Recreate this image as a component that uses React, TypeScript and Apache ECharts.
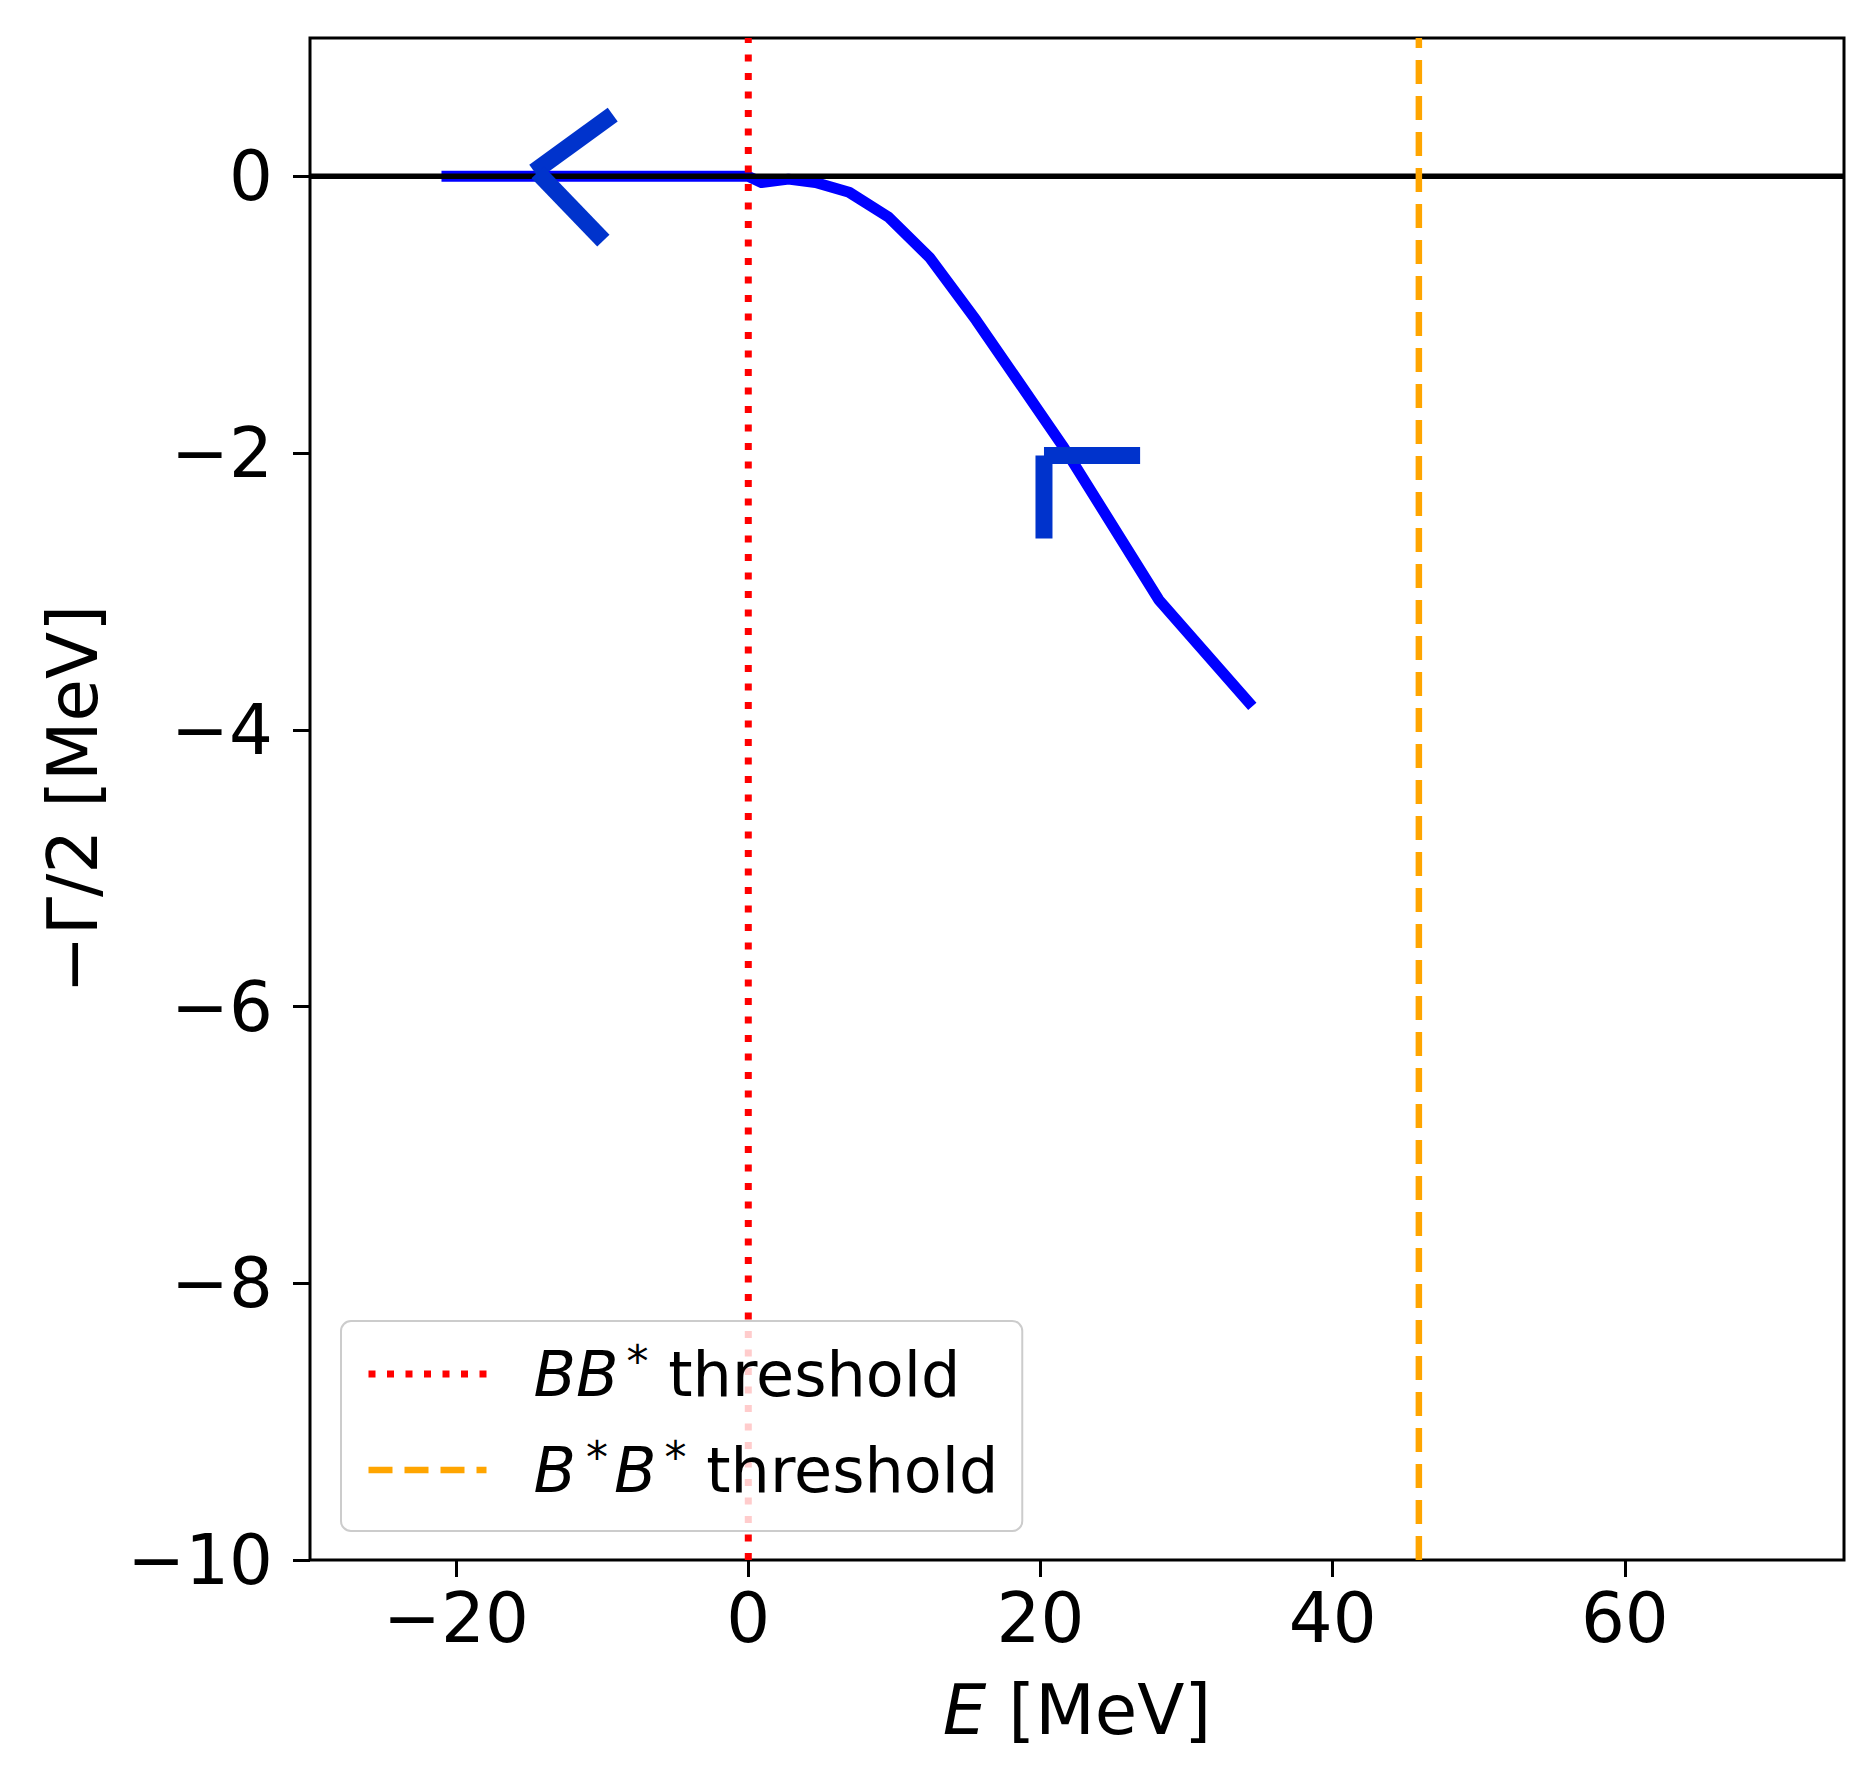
import React, { useEffect, useRef } from 'react';
import * as echarts from 'echarts';

const FONT = 'DejaVu Sans';

const xRange = [-30, 75];
const yRange = [-10, 1];
const xTicks = [-20, 0, 20, 40, 60];
const yTicks = [-10, -8, -6, -4, -2, 0];

const curveE = [-21, -10, 0, 0.9, 2.75, 4.6, 6.9, 9.6, 12.4, 15.6, 21.6, 28.1, 34.5];
const curveG = [0, 0, 0, -0.045, -0.02, -0.045, -0.115, -0.295, -0.585, -1.04, -1.96, -3.06, -3.83];

const bbThreshold = 0;
const bsbsThreshold = 45.9;

const arrowUpper = [[-14.65, 0.034], [-9.28, 0.446]];
const arrowLower = [[-14.42, 0.029], [-9.92, -0.465]];
const gammaVert = [[20.24, -2.017], [20.24, -2.618]];
const gammaHorz = [[20.24, -2.017], [26.82, -2.017]];

const seriesNames = ['BB* threshold', 'B*B* threshold'];

const minus = (v: number) => String(v).replace('-', '\u2212');

const RED_STYLE = { color: '#ff0000', width: 7, type: [7, 11.5] };
const ORANGE_STYLE = { color: '#ffa500', width: 6.5, type: [24, 12] };

export default function App() {
  const ref = useRef<HTMLDivElement>(null);
  useEffect(() => {
    document.body.style.margin = '0';
    const chart = echarts.init(ref.current!, null, { renderer: 'svg' });
    const annoStyle = { color: '#0033cc', width: 17, cap: 'butt' as const };
    const anno = (d: number[][]) => ({
      type: 'line',
      data: d,
      symbol: 'none',
      lineStyle: annoStyle,
      z: 6,
      silent: true,
    });
    chart.setOption({
      animation: false,
      backgroundColor: '#ffffff',
      grid: {
        left: 310,
        right: 30,
        top: 38,
        bottom: 227,
        show: true,
        borderColor: '#000000',
        borderWidth: 3,
        backgroundColor: '#ffffff',
      },
      xAxis: {
        type: 'value',
        min: xRange[0],
        max: xRange[1],
        axisLine: { show: false, onZero: false },
        splitLine: { show: false },
        axisTick: { show: true, length: 17, lineStyle: { color: '#000', width: 3 }, customValues: xTicks },
        axisLabel: {
          customValues: xTicks,
          formatter: minus,
          fontFamily: FONT,
          fontSize: 69,
          color: '#000',
          margin: 23,
        },
        name: '{i|E} [MeV]',
        nameLocation: 'middle',
        nameGap: 115,
        nameTextStyle: {
          fontFamily: FONT,
          fontSize: 69,
          color: '#000',
          rich: {
            i: { fontFamily: FONT, fontSize: 69, fontStyle: 'italic', color: '#000' },
          },
        },
      },
      yAxis: {
        type: 'value',
        min: yRange[0],
        max: yRange[1],
        axisLine: { show: false, onZero: false },
        splitLine: { show: false },
        axisTick: { show: true, length: 17, lineStyle: { color: '#000', width: 3 }, customValues: yTicks },
        axisLabel: {
          customValues: yTicks,
          formatter: minus,
          fontFamily: FONT,
          fontSize: 69,
          color: '#000',
          margin: 37,
        },
        name: '\u2212\u0393/2 [MeV]',
        nameLocation: 'middle',
        nameGap: 203,
        nameRotate: 90,
        nameTextStyle: { fontFamily: FONT, fontSize: 69, color: '#000' },
      },
      legend: {
        data: [
          { name: seriesNames[0], lineStyle: RED_STYLE, itemStyle: { opacity: 0 } },
          { name: seriesNames[1], lineStyle: ORANGE_STYLE, itemStyle: { opacity: 0 } },
        ],
        orient: 'vertical',
        left: 341,
        top: 1321,
        z: 10,
        padding: [18, 24, 26, 24],
        itemGap: 26,
        itemWidth: 118,
        itemHeight: 20,
        selectedMode: false,
        backgroundColor: 'rgba(255,255,255,0.8)',
        borderColor: '#cccccc',
        borderWidth: 2,
        borderRadius: 10,
        formatter: (name: string) =>
          name === seriesNames[0]
            ? '{it|BB}{sup|*}{t| threshold}'
            : '{it|B}{supm|*}{it|B}{sup|*}{t| threshold}',
        textStyle: {
          fontFamily: FONT,
          fontSize: 62,
          color: '#000',
          lineHeight: 70,
          padding: [0, 0, 0, 42],
          rich: {
            it: { fontFamily: FONT, fontSize: 62, fontStyle: 'italic', color: '#000', lineHeight: 70 },
            t: { fontFamily: FONT, fontSize: 62, color: '#000', lineHeight: 70 },
            sup: { fontFamily: FONT, fontSize: 44, color: '#000', lineHeight: 56, verticalAlign: 'top', padding: [0, 0, 0, 8] },
            supm: { fontFamily: FONT, fontSize: 44, color: '#000', lineHeight: 56, verticalAlign: 'top', padding: [0, 6, 0, 10] },
          },
        },
      },
      series: [
        {
          type: 'line',
          name: 'curve',
          data: curveE.map((e, i) => [e, curveG[i]]),
          symbol: 'none',
          lineStyle: { color: '#0000ff', width: 11, join: 'round' },
          z: 2,
          silent: true,
        },
        {
          type: 'line',
          name: 'zero',
          data: [[xRange[0], 0], [xRange[1], 0]],
          symbol: 'none',
          lineStyle: { color: '#000000', width: 5.5 },
          z: 3,
          silent: true,
        },
        {
          type: 'line',
          name: seriesNames[0],
          data: [[bbThreshold, yRange[0]], [bbThreshold, yRange[1]]],
          symbol: 'none',
          lineStyle: RED_STYLE,
          itemStyle: { color: '#ff0000' },
          z: 3,
          silent: true,
        },
        {
          type: 'line',
          name: seriesNames[1],
          data: [[bsbsThreshold, yRange[0]], [bsbsThreshold, yRange[1]]],
          symbol: 'none',
          lineStyle: ORANGE_STYLE,
          itemStyle: { color: '#ffa500' },
          z: 3,
          silent: true,
        },
        anno(arrowUpper),
        anno(arrowLower),
        anno(gammaVert),
        anno(gammaHorz),
      ],
    });
    return () => chart.dispose();
  }, []);
  return <div ref={ref} style={{ width: 1874, height: 1787 }} />;
}
